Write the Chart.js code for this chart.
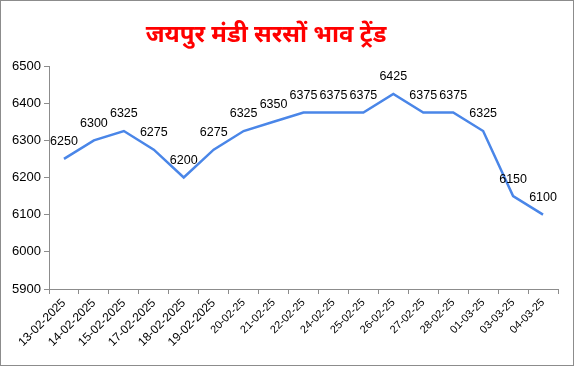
<!DOCTYPE html>
<html>
<head>
<meta charset="utf-8">
<script src="https://cdn.jsdelivr.net/npm/chart.js@4.4.1/dist/chart.umd.min.js"></script>
<style>
    html, body { margin: 0; padding: 0; background: #fff; }
    #wrap { width: 574px; height: 366px; box-sizing: border-box; border: 1px solid #8c8c8c; background: #fff; }
    canvas { display: block; }
</style>
</head>
<body>
<div id="wrap"><canvas id="mandiChart" width="572" height="364"></canvas></div>
<script>
// ==== DATA ====
const chartTitle = 'जयपुर मंडी सरसों भाव ट्रेंड';
const dates = [
    '13-02-2025', '14-02-2025', '15-02-2025', '17-02-2025', '18-02-2025', '19-02-2025',
    '20-02-25', '21-02-25', '22-02-25', '24-02-25', '25-02-25', '26-02-25',
    '27-02-25', '28-02-25', '01-03-25', '03-03-25', '04-03-25'
];
const prices = [6250, 6300, 6325, 6275, 6200, 6275, 6325, 6350, 6375, 6375, 6375, 6425, 6375, 6375, 6325, 6150, 6100];
const yMin = 5900;
const yMax = 6500;
const yStep = 100;

const FONT = '"Liberation Sans", Arial, sans-serif';

// small plugin: values above points + title drawn left of centre
const labelPlugin = {
    id: 'pointLabels',
    afterDatasetsDraw(chart) {
        const ctx = chart.ctx;
        const meta = chart.getDatasetMeta(0);
        ctx.save();
        ctx.font = '12.5px ' + FONT;
        ctx.fillStyle = '#000';
        ctx.textAlign = 'center';
        ctx.textBaseline = 'middle';
        meta.data.forEach(function (pt, i) {
            ctx.fillText(String(prices[i]), pt.x, pt.y - 17);
        });
        ctx.restore();
    },
    afterDraw(chart) {
        const ctx = chart.ctx;
        ctx.save();
        ctx.font = 'bold 24px "Noto Sans Devanagari", "Lohit Devanagari", "Noto Sans", sans-serif';
        ctx.fillStyle = '#ff0000';
        ctx.textAlign = 'center';
        ctx.textBaseline = 'middle';
        ctx.fillText(chartTitle, 265, 37);
        ctx.restore();
    }
};

const ctx = document.getElementById('mandiChart').getContext('2d');
new Chart(ctx, {
    type: 'line',
    data: {
        labels: dates,
        datasets: [{
            label: 'भाव',
            data: prices,
            borderColor: '#4a86e8',
            borderWidth: 2.5,
            pointRadius: 0,
            tension: 0,
            fill: false
        }]
    },
    options: {
        responsive: false,
        animation: false,
        layout: {
            padding: { top: 65, right: 15, left: 0, bottom: 0 }
        },
        plugins: {
            legend: { display: false },
            tooltip: { enabled: false }
        },
        scales: {
            x: {
                offset: true,
                grid: { offset: true, drawOnChartArea: false, drawTicks: true, tickLength: 5, color: '#8c8c8c' },
                border: { display: true, color: '#8c8c8c' },
                ticks: {
                    autoSkip: false,
                    maxRotation: 45,
                    minRotation: 45,
                    padding: 2,
                    color: '#000',
                    // the long dd-mm-yyyy labels are a touch bigger in the original
                    font: function (c) {
                        const lbl = dates[c.index] || '';
                        return { family: FONT, size: lbl.length > 8 ? 12 : 11 };
                    }
                },
                afterFit(scale) { scale.height = 76; }
            },
            y: {
                min: yMin,
                max: yMax,
                grid: { drawOnChartArea: false, drawTicks: true, tickLength: 5, color: '#8c8c8c' },
                border: { display: true, color: '#8c8c8c' },
                ticks: {
                    stepSize: yStep,
                    padding: 3,
                    color: '#000',
                    font: { family: FONT, size: 13 },
                    callback: function (value) { return String(value); }
                },
                afterFit(scale) { scale.width = 48; }
            }
        }
    },
    plugins: [labelPlugin]
});
</script>
</body>
</html>
